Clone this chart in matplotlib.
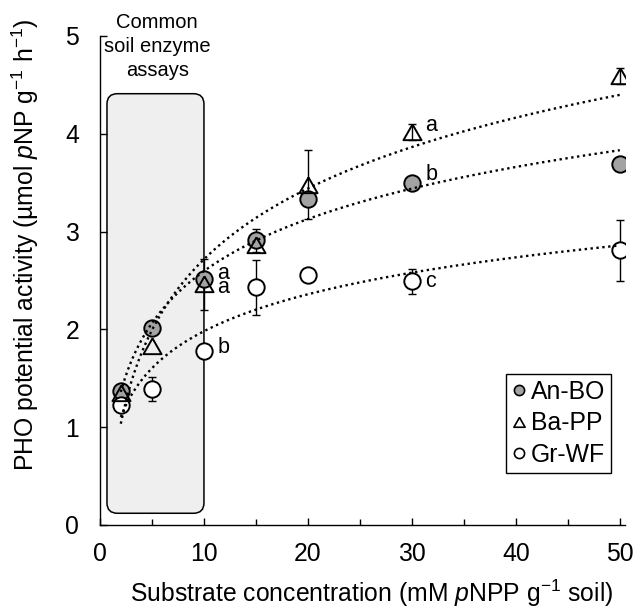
import matplotlib
matplotlib.use('Agg')
import matplotlib.pyplot as plt
import numpy as np
from matplotlib.patches import FancyBboxPatch
from matplotlib.lines import Line2D

plt.rcParams['font.family'] = ['Liberation Sans', 'DejaVu Sans']
plt.rcParams['mathtext.fontset'] = 'custom'
plt.rcParams['mathtext.rm'] = 'Liberation Sans'
plt.rcParams['mathtext.it'] = 'Liberation Sans:italic'

# Data
conc = [2, 5, 10, 15, 20, 30, 50]
anbo = [1.37, 2.01, 2.52, 2.91, 3.33, 3.50, 3.69]
anbo_err = [0, 0, 0, 0.12, 0, 0, 0]
bapp = [1.35, 1.83, 2.46, 2.86, 3.48, 4.02, 4.59]
bapp_err = [0, 0, 0.26, 0, 0.35, 0.08, 0.08]
grwf = [1.23, 1.39, 1.78, 2.43, 2.56, 2.49, 2.81]
grwf_err = [0, 0.12, 0, 0.28, 0, 0.13, 0.31]
series_names = ['An-BO', 'Ba-PP', 'Gr-WF']

# letters at 10 mM and 30 mM
letters_10 = [('a\na', 2.5), ('b', 1.82)]
letters_30 = [('a', 4.08), ('b', 3.58), ('c', 2.49)]

FS = 17.8
W, H = 634, 611
fig = plt.figure(figsize=(W / 100, H / 100), dpi=100)
ax_l, ax_r, ax_t, ax_b = 100, 625, 36, 525
ax = fig.add_axes([ax_l / W, (H - ax_b) / H, (ax_r - ax_l) / W, (ax_b - ax_t) / H])
xmax = 50.5
ax.set_xlim(0, xmax)
ax.set_ylim(0, 5)

# rounded box for common assay range
asp = ((ax_r - ax_l) / xmax) / ((ax_b - ax_t) / 5)
box = FancyBboxPatch((0.67, 0.12), 10.0 - 0.67, 4.41 - 0.12,
                     boxstyle='round,pad=0,rounding_size=1.0',
                     mutation_aspect=asp, facecolor='#efefef',
                     edgecolor='black', linewidth=1.1, zorder=1)
ax.add_patch(box)
ax.text(5.5, 5.24, 'Common\nsoil enzyme\nassays', ha='center', va='top',
        fontsize=14.5, linespacing=1.34, clip_on=False, zorder=5)

tri = [(0, 0.9), (-1, -0.85), (1, -0.85), (0, 0.9)]
styles = [dict(marker='o', ms=11.8, mfc='#a3a3a3', mec='black'),
          dict(marker=tri, ms=13, mfc='none', mec='black'),
          dict(marker='o', ms=11.8, mfc='white', mec='black')]
data = [(anbo, anbo_err), (bapp, bapp_err), (grwf, grwf_err)]
x = np.array(conc, dtype=float)
xfit = np.linspace(2, 50, 200)
zord = [3, 3.2, 3.1]
for (y, e), st, z in zip(data, styles, zord):
    y = np.array(y)
    e = np.array(e)
    m = e > 0
    ax.errorbar(x[m], y[m], yerr=e[m], fmt='none', ecolor='black',
                elinewidth=1.0, capsize=3, capthick=1.0, zorder=2)
    ax.plot(x, y, linestyle='none', mew=1.4, zorder=z, **st)
    # logarithmic trendline
    a, b = np.polyfit(np.log(x), y, 1)
    ax.plot(xfit, a * np.log(xfit) + b, color='black', lw=1.7,
            linestyle=(0, (1, 1.5)), zorder=4)

for t, yy in letters_10:
    ax.text(11.3, yy, t, ha='left', va='center', fontsize=15.5,
            linespacing=0.62, zorder=5)
for t, yy in letters_30:
    ax.text(31.3, yy, t, ha='left', va='center', fontsize=15.5, zorder=5)

handles = [Line2D([], [], linestyle='none', mew=1.2,
                  **dict(st, ms=st['ms'] * 0.62)) for st in styles]
leg = ax.legend(handles, series_names, loc='upper left',
                bbox_to_anchor=(0.773, 0.309), fontsize=FS,
                frameon=True, fancybox=False, edgecolor='black',
                framealpha=1, borderpad=0.25, labelspacing=0.3,
                handlelength=0.55, handletextpad=0.2, borderaxespad=0)
leg.get_frame().set_linewidth(1.0)

ax.spines['top'].set_visible(False)
ax.spines['right'].set_visible(False)
for s in ['left', 'bottom']:
    ax.spines[s].set_linewidth(1.0)
ax.spines['left'].set_bounds(0, 5)

ax.set_xticks([0, 10, 20, 30, 40, 50])
ax.set_xticks([5, 15, 25, 35, 45], minor=True)
ax.set_yticks([0, 1, 2, 3, 4, 5])
ax.tick_params(axis='both', which='major', direction='in', length=5,
               width=1.0, labelsize=FS, pad=12)
ax.tick_params(axis='x', which='minor', direction='in', length=4, width=1.0)
ax.tick_params(axis='y', pad=15)

ax.set_xlabel(r'Substrate concentration (mM $\it{p}$NPP g$^{-1}$ soil)',
              fontsize=FS)
ax.set_ylabel(r'PHO potential activity (µmol $\it{p}$NP g$^{-1}$ h$^{-1}$)',
              fontsize=FS)
ax.xaxis.set_label_coords(0.518, -0.108)
ax.yaxis.set_label_coords(-0.112, 0.573)

fig.savefig('out.png', dpi=100)
